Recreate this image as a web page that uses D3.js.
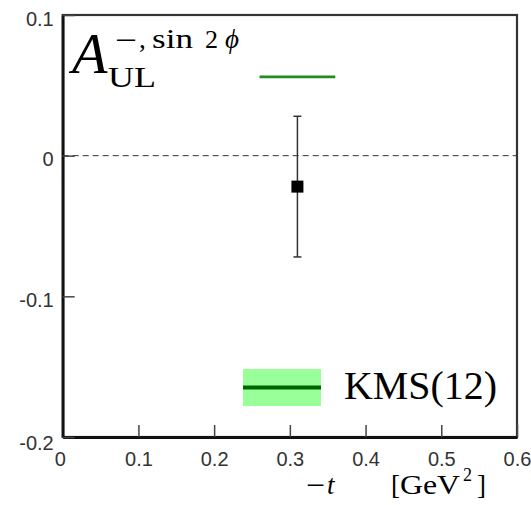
<!DOCTYPE html>
<html>
<head>
<meta charset="utf-8">
<script src="https://cdn.jsdelivr.net/npm/d3@7"></script>
<style>
  html, body { margin: 0; padding: 0; background: #fff; }
  svg { display: block; }
</style>
</head>
<body>
<svg id="chart" width="531" height="505"></svg>
<script>
// Measured asymmetry (one -t bin) with its statistical error
const tValues = [0.31];
const asymValues = [-0.022];
const asymErrors = [0.050];

// KMS(12) model prediction over the bin
const kmsT = [0.26, 0.36];
const kmsValues = [0.056, 0.056];

// Axis ticks
const xTicks = [0, 0.1, 0.2, 0.3, 0.4, 0.5, 0.6];
const yTicks = [-0.2, -0.1, 0, 0.1];
const legendLabels = ["KMS(12)"];

const svg = d3.select("#chart");
const plotLeft = 62.7, plotRight = 517, plotTop = 15, plotBottom = 437;

const x = d3.scaleLinear().domain([0, 0.6]).range([plotLeft, plotRight]);
const y = d3.scaleLinear().domain([-0.2, 0.1]).range([plotBottom, plotTop]);

const serif = "'Liberation Serif', 'Times New Roman', serif";
const sans = "'Liberation Sans', Arial, Helvetica, sans-serif";

// zero reference line
svg.append("line")
  .attr("x1", x(0)).attr("x2", x(0.6))
  .attr("y1", y(0)).attr("y2", y(0))
  .attr("stroke", "#333").attr("stroke-width", 1)
  .attr("stroke-dasharray", "6,4");

// frame
svg.append("rect")
  .attr("x", plotLeft).attr("y", plotTop)
  .attr("width", plotRight - plotLeft).attr("height", plotBottom - plotTop)
  .attr("fill", "none").attr("stroke", "#333").attr("stroke-width", 2.2);

// x axis with inward ticks
const fmtX = d => d === 0 ? "0" : d3.format(".1f")(d);
const xAxis = d3.axisBottom(x).tickValues(xTicks).tickFormat(fmtX)
  .tickSizeInner(-12).tickSizeOuter(0).tickPadding(15);
const gx = svg.append("g").attr("transform", `translate(0,${plotBottom})`).call(xAxis);
gx.select(".domain").attr("stroke", "#111").attr("stroke-width", 2.8);
gx.selectAll(".tick line").attr("stroke", "#444").attr("stroke-width", 1.5);
gx.selectAll(".tick text")
  .attr("font-family", sans).attr("font-size", 20).attr("fill", "#333")
  .attr("dx", d => d === 0 ? -3 : 0);

// y axis with inward ticks
const fmtY = d => d === 0 ? "0" : d3.format(".1f")(d).replace("\u2212", "-");
const yAxis = d3.axisLeft(y).tickValues(yTicks).tickFormat(fmtY)
  .tickSizeInner(-12).tickSizeOuter(0).tickPadding(9);
const gy = svg.append("g").attr("transform", `translate(${plotLeft},0)`).call(yAxis);
gy.select(".domain").attr("stroke", "#111").attr("stroke-width", 2.8);
gy.selectAll(".tick line").attr("stroke", "#444").attr("stroke-width", 1.5);
gy.selectAll(".tick text")
  .attr("font-family", sans).attr("font-size", 20).attr("fill", "#333")
  .attr("dy", d => d === -0.2 ? "0.62em" : "0.5em");

// KMS(12) prediction
svg.append("line")
  .attr("x1", x(kmsT[0])).attr("x2", x(kmsT[1]))
  .attr("y1", y(kmsValues[0])).attr("y2", y(kmsValues[1]))
  .attr("stroke", "#228b22").attr("stroke-width", 2.6);

// data point with error bar
const pts = tValues.map((t, i) => ({ t, v: asymValues[i], e: asymErrors[i] }));
const pg = svg.append("g").selectAll("g").data(pts).join("g");
pg.append("line")
  .attr("x1", d => x(d.t)).attr("x2", d => x(d.t))
  .attr("y1", d => y(d.v + d.e)).attr("y2", d => y(d.v - d.e))
  .attr("stroke", "#333").attr("stroke-width", 1.5);
pg.selectAll("line.cap").data(d => [[d.t, d.v + d.e], [d.t, d.v - d.e]]).join("line")
  .attr("class", "cap")
  .attr("x1", d => x(d[0]) - 4).attr("x2", d => x(d[0]) + 4)
  .attr("y1", d => y(d[1])).attr("y2", d => y(d[1]))
  .attr("stroke", "#333").attr("stroke-width", 1.5);
pg.append("rect")
  .attr("x", d => x(d.t) - 6).attr("y", d => y(d.v) - 6)
  .attr("width", 12).attr("height", 12).attr("fill", "#000");

// legend
const lg = svg.append("g");
lg.append("rect").attr("x", 243).attr("y", 369).attr("width", 78).attr("height", 37)
  .attr("fill", "#99ff99");
lg.append("line").attr("x1", 243).attr("x2", 321).attr("y1", 387.5).attr("y2", 387.5)
  .attr("stroke", "#006400").attr("stroke-width", 4);
lg.append("text").attr("x", 344).attr("y", 399)
  .attr("font-family", serif).attr("font-size", 39).attr("fill", "#000")
  .attr("textLength", 153).attr("lengthAdjust", "spacingAndGlyphs")
  .text(legendLabels[0]);

// observable label A_UL^{-, sin 2phi}
const lab = svg.append("g").attr("font-family", serif).attr("fill", "#000");
lab.append("text").attr("x", 72).attr("y", 73).attr("font-size", 58)
  .attr("font-style", "italic").text("A");
lab.append("text").attr("x", 108).attr("y", 87).attr("font-size", 29)
  .attr("textLength", 48).attr("lengthAdjust", "spacingAndGlyphs").text("UL");
lab.append("text").attr("x", 115).attr("y", 49).attr("font-size", 27)
  .attr("textLength", 22).attr("lengthAdjust", "spacingAndGlyphs").text("\u2212");
lab.append("text").attr("x", 139).attr("y", 48).attr("font-size", 27).text(",");
lab.append("text").attr("x", 152).attr("y", 48).attr("font-size", 27)
  .attr("textLength", 41).attr("lengthAdjust", "spacingAndGlyphs").text("sin");
lab.append("text").attr("x", 205).attr("y", 48).attr("font-size", 26).text("2");
lab.append("text").attr("x", 225).attr("y", 48).attr("font-size", 27)
  .attr("font-style", "italic").text("\u03d5");

// x axis title: -t [GeV^2]
const xt = svg.append("g").attr("font-family", serif).attr("fill", "#000");
xt.append("text").attr("x", 306).attr("y", 494).attr("font-size", 27)
  .attr("textLength", 19).attr("lengthAdjust", "spacingAndGlyphs").text("\u2212");
xt.append("text").attr("x", 327).attr("y", 494).attr("font-size", 27)
  .attr("font-style", "italic").text("t");
xt.append("text").attr("x", 391).attr("y", 494).attr("font-size", 27).text("[");
xt.append("text").attr("x", 400).attr("y", 494).attr("font-size", 27)
  .attr("textLength", 60).attr("lengthAdjust", "spacingAndGlyphs").text("GeV");
xt.append("text").attr("x", 463).attr("y", 481).attr("font-size", 18).text("2");
xt.append("text").attr("x", 477).attr("y", 494).attr("font-size", 27).text("]");
</script>
</body>
</html>
